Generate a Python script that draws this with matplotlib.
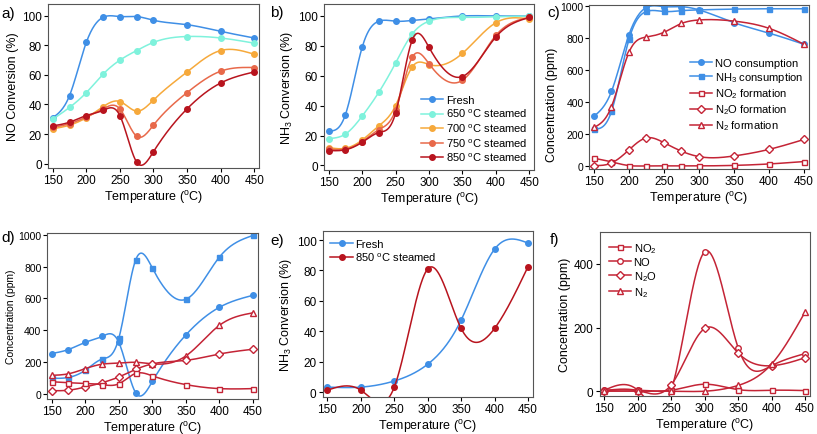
import numpy as np
import matplotlib
matplotlib.use("Agg")
import matplotlib.pyplot as plt

plt.rcParams['font.family'] = ['Liberation Sans', 'DejaVu Sans']
plt.rcParams['font.size'] = 8
plt.rcParams['mathtext.default'] = 'regular'

# ---- data ----
temps = [150, 175, 200, 225, 250, 275, 300, 350, 400, 450]
temps_short = [150, 200, 250, 300, 350, 400, 450]

# a) NO conversion (%)
no_fresh = [31, 46, 82, 99, 99.5, 99.5, 97, 94, 89.5, 85]
no_650 = [30, 38, 48, 60.5, 70, 76.5, 82, 86, 85, 81.5]
no_700 = [23.5, 26, 31, 38.5, 42, 35.5, 43, 62, 76.5, 74]
no_750 = [24.5, 27, 31.5, 37, 37, 18.5, 26, 48, 62.5, 65]
no_850 = [25.5, 28, 32.5, 36, 32.5, 1, 8, 37, 54.5, 62]

# b) NH3 conversion (%)
nh3_fresh = [23, 34, 79, 96.5, 96.5, 97, 98, 100, 100, 100]
nh3_650 = [18, 21, 33, 49, 68.5, 88, 96.5, 99, 99.5, 100]
nh3_700 = [12, 11.5, 17, 26.5, 40, 66, 67.5, 75, 95.5, 98]
nh3_750 = [11, 11, 16, 24, 37, 72.5, 68, 57, 87, 99]
nh3_850 = [10, 10.5, 15.5, 22, 35, 84, 79, 59.5, 86, 99]

# c) fresh catalyst, concentrations (ppm)
c_no_cons = [310, 465, 820, 990, 995, 995, 975, 895, 830, 760]
c_nh3_cons = [230, 340, 790, 965, 965, 970, 975, 980, 982, 982]
c_no2_form = [48, 25, 2, 0, 0, 0, 0, 3, 12, 27]
c_n2o_form = [2, 18, 100, 175, 145, 92, 58, 62, 103, 165]
c_n2_form = [240, 370, 710, 805, 835, 890, 912, 905, 860, 760]

# d) 850 C steamed, concentrations (ppm)
d_nh3_cons = [100, 105, 150, 220, 350, 840, 790, 595, 860, 995]
d_no_cons = [255, 280, 325, 362, 325, 10, 80, 372, 545, 620]
d_n2_form = [118, 128, 160, 188, 195, 200, 190, 240, 432, 510]
d_n2o_form = [22, 25, 45, 72, 108, 155, 190, 212, 252, 282]
d_no2_form = [78, 72, 68, 60, 65, 130, 115, 60, 35, 35]

# e) NH3 oxidation conversion (%)
e_fresh = [3.5, 3.5, 7.5, 18.5, 47.5, 94, 98]
e_850 = [1.5, 1.5, 3.5, 81, 42, 42, 82.5]

# f) NH3 oxidation products, 850 C steamed (ppm)
f_no2 = [3, 3, 3, 22, 5, 3, 2]
f_no = [3, 3, 3, 438, 137, 80, 118]
f_n2o = [2, 2, 20, 197, 120, 80, 105]
f_n2 = [0, 0, 0, 0, 18, 85, 248]

BLUE = '#3f8fe6'
CYAN = '#7ff2dc'
ORANGE = '#f6a93b'
CORAL = '#e8694a'
DRED = '#b8141e'
RED = '#c42436'


def spline(x, y, n=300):
    # natural cubic spline through the points, for the smooth connecting line
    x = np.asarray(x, float)
    y = np.asarray(y, float)
    k = len(x)
    h = np.diff(x)
    A = np.zeros((k, k))
    r = np.zeros(k)
    A[0, 0] = 1
    A[-1, -1] = 1
    for i in range(1, k - 1):
        A[i, i - 1] = h[i - 1]
        A[i, i] = 2 * (h[i - 1] + h[i])
        A[i, i + 1] = h[i]
        r[i] = 6 * ((y[i + 1] - y[i]) / h[i] - (y[i] - y[i - 1]) / h[i - 1])
    M = np.linalg.solve(A, r)
    xs = np.linspace(x[0], x[-1], n)
    idx = np.clip(np.searchsorted(x, xs) - 1, 0, k - 2)
    x0, x1 = x[idx], x[idx + 1]
    hh = x1 - x0
    a = (x1 - xs) / hh
    b = (xs - x0) / hh
    ys = a * y[idx] + b * y[idx + 1] + ((a**3 - a) * M[idx] + (b**3 - b) * M[idx + 1]) * hh**2 / 6
    return xs, ys


def series(ax, x, y, color, marker, label=None, filled=True, ms=4):
    xs, ys = spline(x, y)
    ax.plot(xs, ys, color=color, lw=1.1)
    ax.plot(x, y, ls='none', marker=marker, color=color, ms=ms,
            mfc=color if filled else 'white', mew=1.0)
    # legend proxy
    ax.plot([], [], color=color, lw=1.1, marker=marker, ms=ms,
            mfc=color if filled else 'white', mew=1.0, label=label)


def style(ax, ylabel, ylim, yticks, narrow=False, ylsize=9):
    ax.set_xlim(143, 457)
    ax.set_xticks([150, 200, 250, 300, 350, 400, 450])
    ax.set_ylim(*ylim)
    ax.set_yticks(yticks)
    ax.set_xlabel('Temperature ($^{o}$C)', fontsize=9, labelpad=1)
    ax.set_ylabel(ylabel, fontsize=ylsize, labelpad=2)
    ax.tick_params(labelsize=8.5, length=3, width=0.8, direction='out', pad=1.5)
    if narrow:
        ax.yaxis.set_tick_params(labelsize=7.5, pad=1,
                                 labelfontfamily=['Liberation Sans Narrow', 'Liberation Sans'])
    for s in ax.spines.values():
        s.set_linewidth(0.8)
        s.set_color('#555555')


leg_kw = dict(frameon=False, fontsize=8, handlelength=2.0, handletextpad=0.25,
              labelspacing=0.2)

fig = plt.figure(figsize=(8.17, 4.35), dpi=100)

# a)
ax = fig.add_axes([0.0588, 0.6115, 0.258, 0.377])
series(ax, temps, no_fresh, BLUE, 'o')
series(ax, temps, no_650, CYAN, 'o')
series(ax, temps, no_700, ORANGE, 'o')
series(ax, temps, no_750, CORAL, 'o')
series(ax, temps, no_850, DRED, 'o')
style(ax, 'NO Conversion (%)', (-3, 108), [0, 20, 40, 60, 80, 100])

# b)
ax = fig.add_axes([0.3966, 0.607, 0.257, 0.3815])
series(ax, temps, nh3_fresh, BLUE, 'o', 'Fresh')
series(ax, temps, nh3_650, CYAN, 'o', '650 $^{o}$C steamed')
series(ax, temps, nh3_700, ORANGE, 'o', '700 $^{o}$C steamed')
series(ax, temps, nh3_750, CORAL, 'o', '750 $^{o}$C steamed')
series(ax, temps, nh3_850, DRED, 'o', '850 $^{o}$C steamed')
style(ax, 'NH$_3$ Conversion (%)', (-3, 108), [0, 20, 40, 60, 80, 100])
ax.legend(loc='lower right', borderaxespad=0.2, **leg_kw)

# c)
ax = fig.add_axes([0.721, 0.609, 0.269, 0.377])
series(ax, temps, c_no_cons, BLUE, 'o', 'NO consumption')
series(ax, temps, c_nh3_cons, BLUE, 's', 'NH$_3$ consumption', ms=3.6)
series(ax, temps, c_no2_form, RED, 's', 'NO$_2$ formation', filled=False, ms=3.6)
series(ax, temps, c_n2o_form, RED, 'D', 'N$_2$O formation', filled=False, ms=3.6)
series(ax, temps, c_n2_form, RED, '^', 'N$_2$ formation', filled=False)
style(ax, 'Concentration (ppm)', (-20, 1005), [0, 200, 400, 600, 800, 1000], narrow=True)
ax.yaxis.label.set_y(0.4)
ax.legend(loc='center right', bbox_to_anchor=(1.0, 0.45), borderaxespad=0.1, **leg_kw)

# d)
ax = fig.add_axes([0.0575, 0.0805, 0.258, 0.3815])
series(ax, temps, d_nh3_cons, BLUE, 's', ms=3.6)
series(ax, temps, d_no_cons, BLUE, 'o')
series(ax, temps, d_n2_form, RED, '^', filled=False)
series(ax, temps, d_n2o_form, RED, 'D', filled=False, ms=3.6)
series(ax, temps, d_no2_form, RED, 's', filled=False, ms=3.6)
style(ax, 'Concentration (ppm)', (-30, 1010), [0, 200, 400, 600, 800, 1000],
      narrow=True, ylsize=7.5)

# e)
ax = fig.add_axes([0.395, 0.085, 0.257, 0.382])
series(ax, temps_short, e_fresh, BLUE, 'o', 'Fresh')
series(ax, temps_short, e_850, DRED, 'o', '850 $^{o}$C steamed')
style(ax, 'NH$_3$ Conversion (%)', (-3, 106), [0, 20, 40, 60, 80, 100])
ax.legend(loc='upper left', borderaxespad=0.3, **leg_kw)

# f)
ax = fig.add_axes([0.734, 0.0874, 0.257, 0.377])
series(ax, temps_short, f_no2, RED, 's', 'NO$_2$', filled=False, ms=3.6)
series(ax, temps_short, f_no, RED, 'o', 'NO', filled=False)
series(ax, temps_short, f_n2o, RED, 'D', 'N$_2$O', filled=False, ms=3.6)
series(ax, temps_short, f_n2, RED, '^', 'N$_2$', filled=False)
style(ax, 'Concentration (ppm)', (-15, 500), [0, 200, 400])
ax.legend(loc='upper left', borderaxespad=0.4, **leg_kw)

for lab, x, y in [('a)', 0.002, 0.968), ('b)', 0.331, 0.969), ('c)', 0.67, 0.97),
                  ('d)', 0.002, 0.453), ('e)', 0.331, 0.446), ('f)', 0.673, 0.448)]:
    fig.text(x, y, lab, fontsize=11, va='center', ha='left')

fig.savefig('out.png', dpi=100)
